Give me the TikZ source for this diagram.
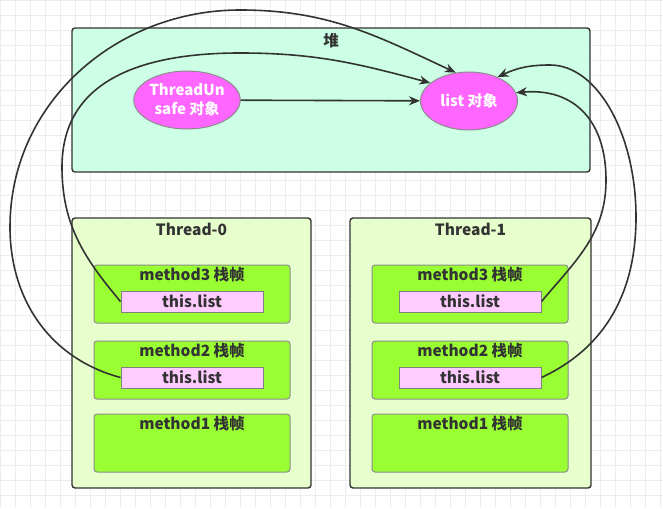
\documentclass[tikz,border=0pt]{standalone}
\usepackage{fontspec}
\setmainfont{Noto Sans CJK SC}
\usepackage{xcolor}
\usepackage{tikz}
\usetikzlibrary{positioning,arrows.meta,shapes.geometric}

\definecolor{heapfill}{HTML}{CCFFE6}
\definecolor{threadfill}{HTML}{E6FFCC}
\definecolor{framefill}{HTML}{99FF33}
\definecolor{reffill}{HTML}{FFCCFF}
\definecolor{objfill}{HTML}{FF66FF}
\definecolor{ink}{HTML}{333333}

\begin{document}
\begin{tikzpicture}[
    x=1pt, y=-1pt,
    font=\bfseries\fontsize{15.5}{18}\selectfont,
    text=ink,
    % --- canvas grid ---
    gridline/.style={draw=black!7, line width=0.6pt},
    % --- heap area / thread stacks ---
    area/.style={draw=ink, line width=1.4pt, rounded corners=3pt, inner sep=0pt},
    title/.style={inner sep=1pt},
    % --- stack frame of one method ---
    frame/.style={draw=black!45, line width=1pt, rounded corners=3pt, fill=framefill,
                  minimum width=196pt, minimum height=58pt, inner sep=0pt},
    % --- local reference this.list ---
    ref/.style={draw=black!50, line width=1pt, fill=reffill, inner sep=0pt,
                minimum width=142pt, minimum height=21pt},
    % --- heap objects ---
    obj/.style={ellipse, draw=black!45, line width=1pt, fill=objfill, text=white,
                minimum width=97pt, minimum height=58pt, inner sep=0pt, align=center,
                font=\bfseries\fontsize{15}{19}\selectfont},
    link/.style={draw=ink, line width=1.6pt, -{Stealth[length=11pt,width=9pt]}},
  ]

  % ---- canvas -------------------------------------------------------------
  \useasboundingbox (0,0) rectangle (663,508);
  \fill[white] (0,0) rectangle (663,508);
  \draw[gridline, step=15pt] (0,0) grid (663,508);

  % ---- HEAP ---------------------------------------------------------------
  \node[area, fill=heapfill, minimum width=518pt, minimum height=144pt]
        (heap) at (331,100) {};
  \node[title, below=5pt of heap.north] (heaptitle) {堆};

  \node[obj] (unsafe) at (187,100) {ThreadUn\\safe 对象};
  \node[obj] (list) at (469,101) {list 对象};

  % ---- THREAD-0 -----------------------------------------------------------
  \node[area, fill=threadfill, minimum width=239pt, minimum height=270pt]
        (t0) at (191.5,353) {};
  \node[title, below=5pt of t0.north] {Thread-0};

  \node[frame] (t0f3) at (192,294) {};
  \node[frame, below=17pt of t0f3] (t0f2) {};
  \node[frame, below=14pt of t0f2] (t0f1) {};
  \node[title, below=2pt of t0f3.north] {method3 栈帧};
  \node[title, below=2pt of t0f2.north] {method2 栈帧};
  \node[title, below=2pt of t0f1.north] {method1 栈帧};
  \node[ref, below=26pt of t0f3.north] (t0r3) {this.list};
  \node[ref, below=26pt of t0f2.north] (t0r2) {this.list};

  % ---- THREAD-1 -----------------------------------------------------------
  \node[area, fill=threadfill, minimum width=241pt, minimum height=270pt]
        (t1) at (470.5,353) {};
  \node[title, below=5pt of t1.north] {Thread-1};

  \node[frame] (t1f3) at (470,294) {};
  \node[frame, below=17pt of t1f3] (t1f2) {};
  \node[frame, below=14pt of t1f2] (t1f1) {};
  \node[title, below=2pt of t1f3.north] {method3 栈帧};
  \node[title, below=2pt of t1f2.north] {method2 栈帧};
  \node[title, below=2pt of t1f1.north] {method1 栈帧};
  \node[ref, below=26pt of t1f3.north] (t1r3) {this.list};
  \node[ref, below=26pt of t1f2.north] (t1r2) {this.list};

  % ---- references into the heap -------------------------------------------
  \coordinate (l3a) at (62,167);  \coordinate (l3b) at (240,53);
  \coordinate (l2a) at (10,227);  \coordinate (l2b) at (240,10);
  \coordinate (r3a) at (606,180);
  \coordinate (r2a) at (636,217); \coordinate (r2b) at (550,65);

  \draw[link] (unsafe) -- (list);
  \draw[link] (t0r3.west) to[out=130,in=-90] (l3a) to[out=90,in=180,looseness=1.1] (l3b)
        to[out=0,in=165] (list.155);
  \draw[link] (t0r2.west) to[out=165,in=-90] (l2a) to[out=90,in=180] (l2b)
        to[out=0,in=155] (list.115);
  \draw[link] (t1r3.east) to[out=50,in=-90] (r3a) to[out=90,in=5,looseness=1.2] (list.10);
  \draw[link] (t1r2.east) to[out=25,in=-90] (r2a)
        to[out=90,in=0,out looseness=1.2,in looseness=0.7] (r2b)
        to[out=180,in=25] (list.40);

\end{tikzpicture}
\end{document}
